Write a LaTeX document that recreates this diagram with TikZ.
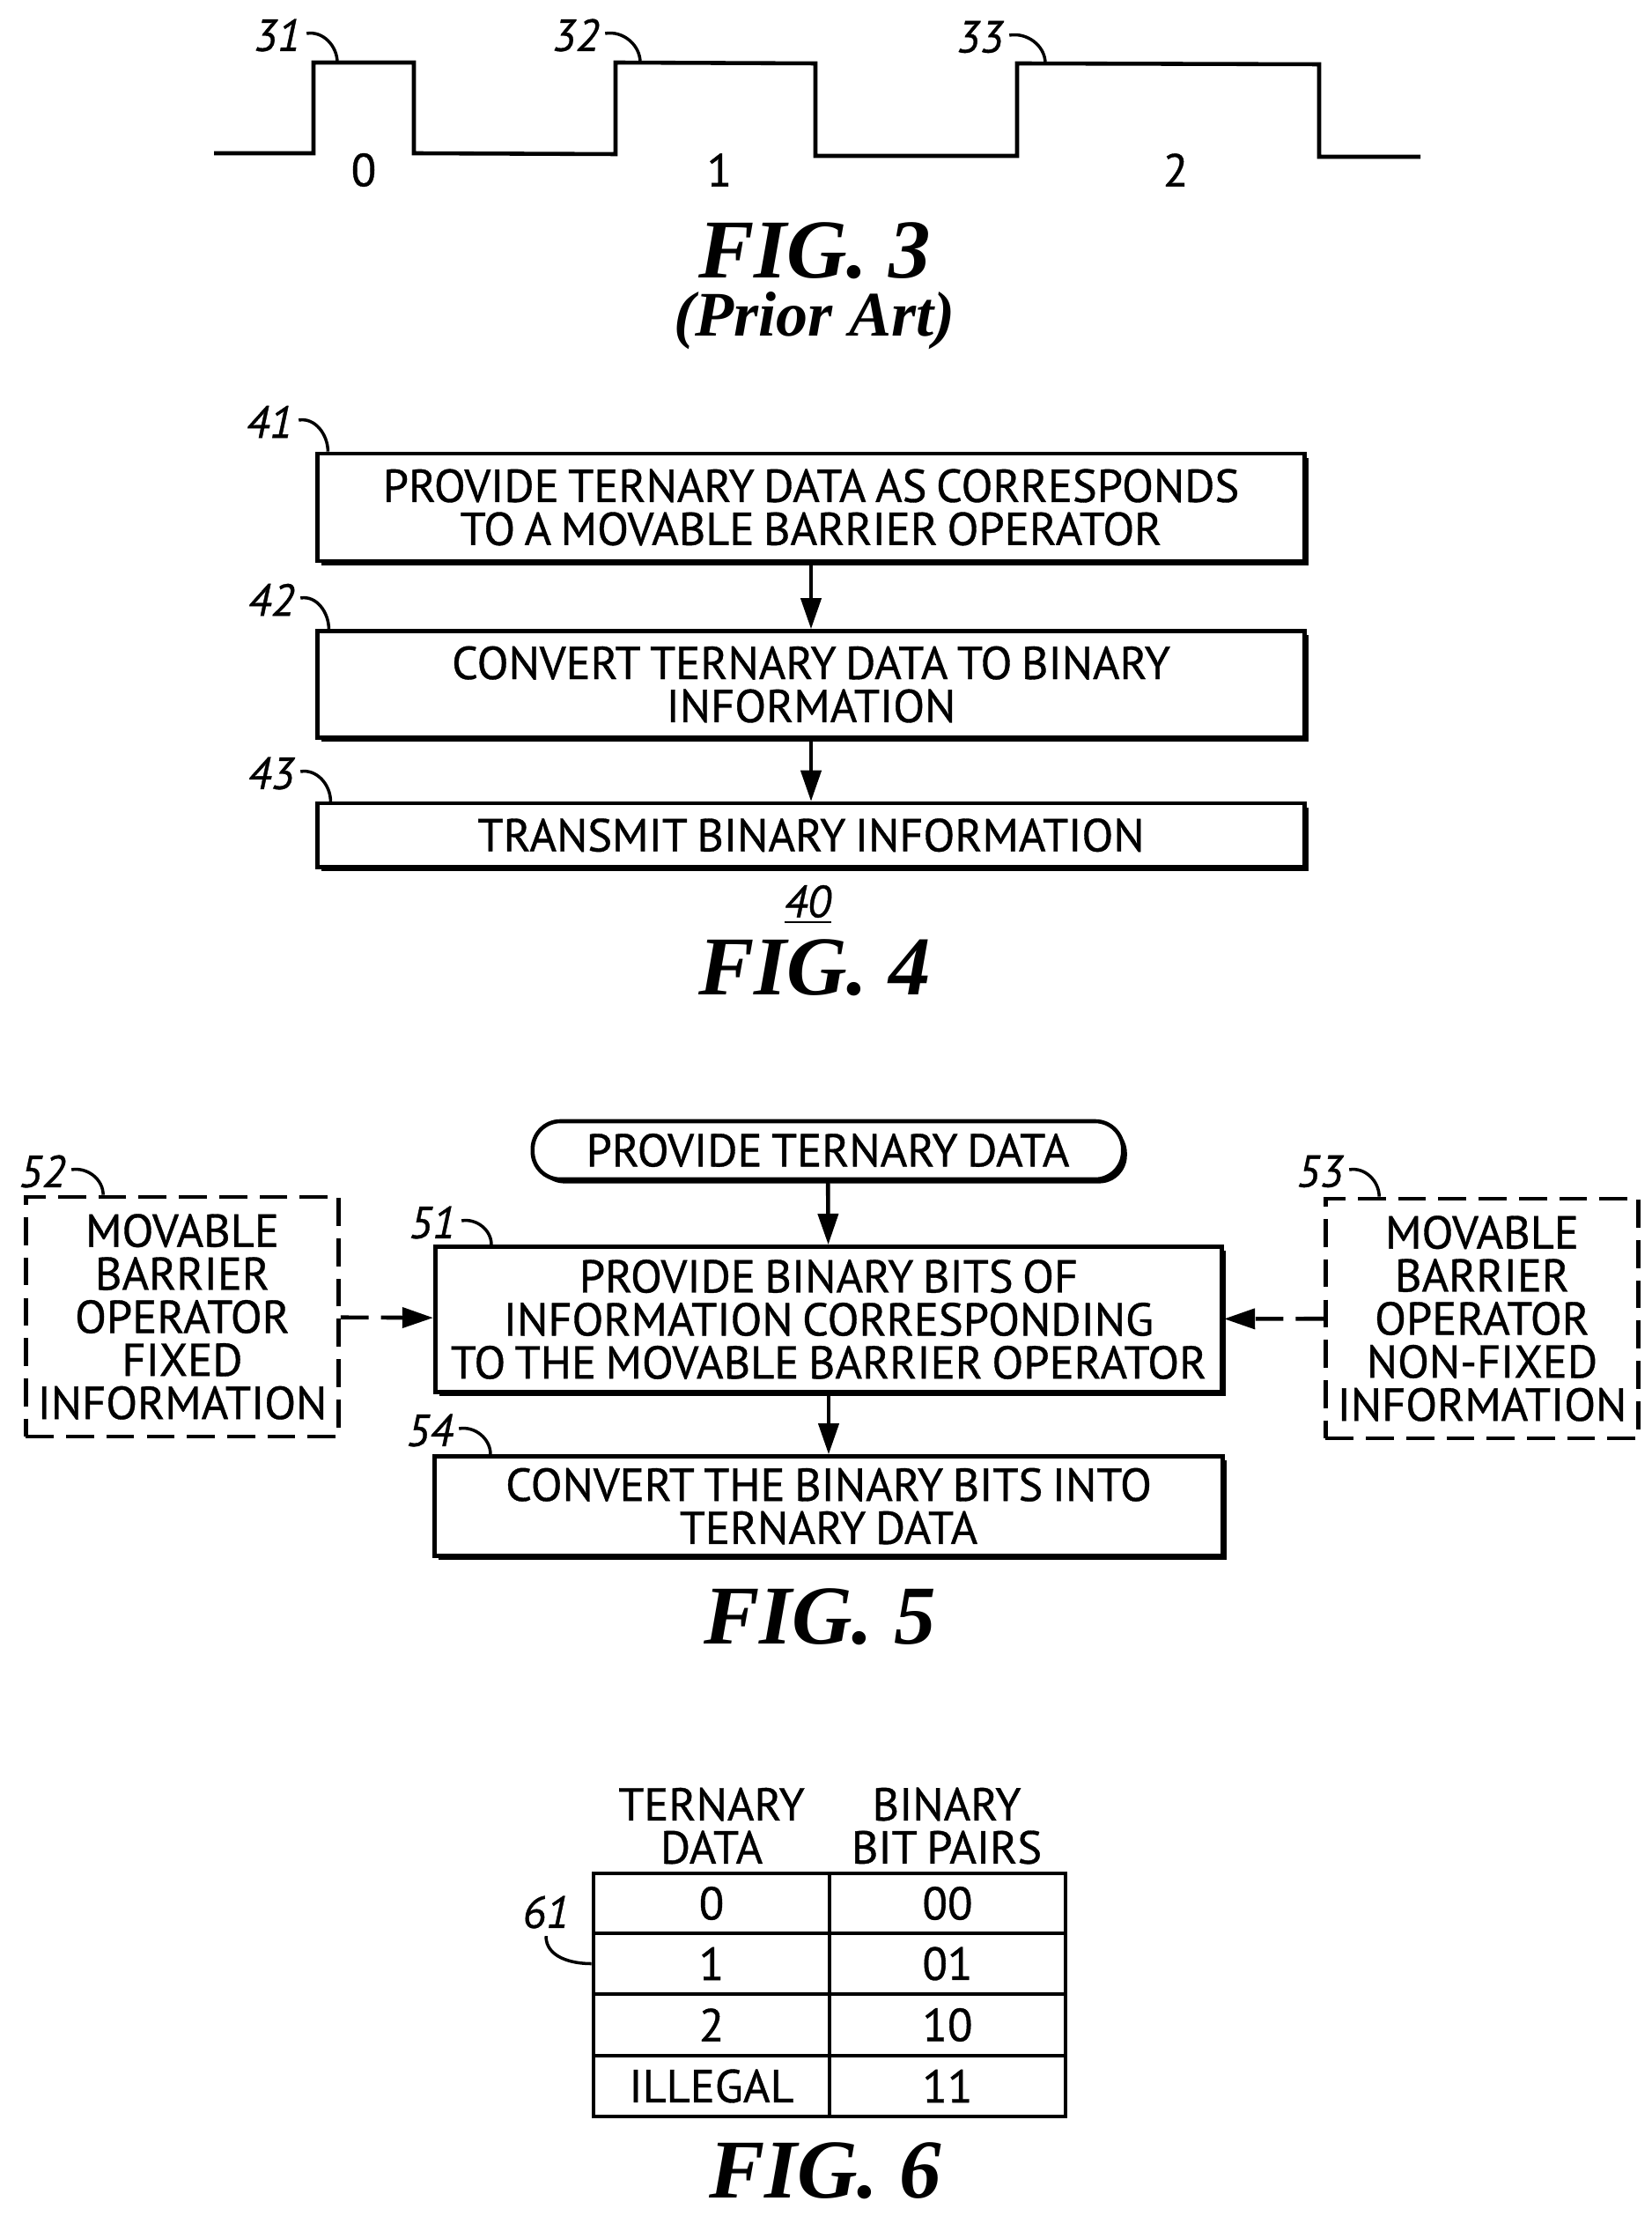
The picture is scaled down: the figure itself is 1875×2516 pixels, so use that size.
\documentclass[tikz,border=0pt]{standalone}
\usepackage{fontspec}
\setmainfont{PT Sans}[WordSpace=0.75,RawFeature={embolden=0.7}]
\newfontfamily\figfont{Liberation Serif}
\usetikzlibrary{arrows.meta,positioning,shadows}

\tikzset{
  stepbox/.style={draw,fill=white,line width=1.3pt,align=center,inner sep=0pt,
    font=\fontsize{14.9}{13.9}\selectfont,minimum width=11.2cm,
    drop shadow={shadow xshift=1.3pt,shadow yshift=-1.3pt,opacity=1,fill=black}},
  infobox/.style={draw,fill=white,line width=1.3pt,align=center,inner sep=0pt,dash pattern=on 9pt off 4pt,
    font=\fontsize{14.9}{13.9}\selectfont,minimum width=3.55cm,minimum height=2.72cm},
  cell/.style={draw,line width=1.3pt,inner sep=0pt,font=\fontsize{14.9}{13.9}\selectfont,minimum width=2.68cm},
  plain/.style={align=center,inner sep=0pt,font=\fontsize{14.9}{13.9}\selectfont},
  refnum/.style={inner sep=0pt,font=\fontsize{14.5}{14}\selectfont\itshape},
  figlabel/.style={inner sep=0pt,font=\figfont\fontsize{27}{27}\selectfont\bfseries\itshape},
  leader/.style={line width=1pt,-}
}

\begin{document}
\begin{tikzpicture}[%
       x=0.01cm,y=-0.01cm,
       >={Stealth[length=10pt,width=6.5pt,inset=0pt]},
       node distance=1cm,
       on grid
     ]
     \useasboundingbox (0,0) rectangle (1875,2516);

     % FIG. 3
     \draw[line width=1.3pt,line join=miter] (243,174) -- (356,174) -- (356,71) -- (470,71) -- (470,174) -- (699,175)
        -- (699,71) -- (926,72) -- (926,177) -- (1155,177) -- (1155,72) -- (1498,73) -- (1498,178) -- (1613,178);
     \node[plain] (p0) at (413,193) {0};
     \node[plain] (p1) at (817,193) {1};
     \node[plain] (p2) at (1335,193) {2};
     \node[refnum] (l31) at (315,40) {31};
     \node[refnum] (l32) at (654,40) {32};
     \node[refnum] (l33) at (1113,42) {33};
     \coordinate (c31) at (383,71);
     \coordinate (c32) at (727,71);
     \coordinate (c33) at (1187,72);
     \draw[leader] (l31.east) ++(6,-2) to[out=10,in=90] (c31);
     \draw[leader] (l32.east) ++(6,-2) to[out=10,in=90] (c32);
     \draw[leader] (l33.east) ++(6,-2) to[out=10,in=90] (c33);
     \node[figlabel] (f3) at (925,285) {FIG. 3};
     \node[inner sep=0pt,font=\figfont\fontsize{20.5}{20}\selectfont\bfseries\itshape] (f3b) at (925,364) {(Prior Art)};

     % FIG. 4
     \node[stepbox,minimum height=1.22cm]	(b41) at (921,576)	{PROVIDE TERNARY DATA AS CORRESPONDS\\TO A MOVABLE BARRIER OPERATOR};
     \node[stepbox,minimum height=1.21cm]	(b42) [below=2.01cm of b41]	{CONVERT TERNARY DATA TO BINARY\\INFORMATION};
     \node[stepbox,minimum height=.72cm]	(b43) [below=1.71cm of b42]	{TRANSMIT BINARY INFORMATION};
     \node[refnum] (l41) at (306,479) {41};
     \node[refnum] (l42) at (308,681) {42};
     \node[refnum] (l43) at (308,878) {43};
     \draw[leader] (l41.east) ++(6,-2) to[out=10,in=90] ([xshift=.14cm]b41.north west);
     \draw[leader] (l42.east) ++(6,-2) to[out=10,in=90] ([xshift=.15cm]b42.north west);
     \draw[leader] (l43.east) ++(6,-2) to[out=10,in=90] ([xshift=.17cm]b43.north west);
     \path[->,line width=1.3pt] (b41) edge (b42);
     \path[->,line width=1.3pt] (b42) edge (b43);
     \node[refnum] (n40) at (917,1027) {\underline{40}};
     \node[figlabel] (f4) at (925,1099) {FIG. 4};

     % FIG. 5
     \node[stepbox,rounded corners=9pt,minimum width=6.7cm,minimum height=.66cm]	(start) at (940,1306)	{PROVIDE TERNARY DATA};
     \node[stepbox,minimum width=8.93cm,minimum height=1.65cm]	(b51) at (941,1498)	{PROVIDE BINARY BITS OF\\INFORMATION CORRESPONDING\\TO THE MOVABLE BARRIER OPERATOR};
     \node[stepbox,minimum width=8.95cm,minimum height=1.13cm]	(b54) [below=2.12cm of b51]	{CONVERT THE BINARY BITS INTO\\TERNARY DATA};
     \node[infobox]	(b52) at (207,1495)	{MOVABLE\\BARRIER\\OPERATOR\\FIXED\\INFORMATION};
     \node[infobox]	(b53) at (1683,1497)	{MOVABLE\\BARRIER\\OPERATOR\\NON-FIXED\\INFORMATION};
     \node[refnum] (l52) at (48,1330) {52};
     \node[refnum] (l53) at (1499,1330) {53};
     \node[refnum] (l51) at (491,1388) {51};
     \node[refnum] (l54) at (488,1624) {54};
     \draw[leader] (l52.east) ++(6,-2) to[out=10,in=90] ([xshift=.9cm]b52.north west);
     \draw[leader] (l53.east) ++(6,-2) to[out=10,in=90] ([xshift=.63cm]b53.north west);
     \draw[leader] (l51.east) ++(6,-2) to[out=10,in=90] ([xshift=.66cm]b51.north west);
     \draw[leader] (l54.east) ++(6,-2) to[out=10,in=90] ([xshift=.66cm]b54.north west);
     \path[->,line width=1.3pt] (start) edge (b51);
     \path[->,line width=1.3pt] (b51) edge (b54);
     \path[->,line width=1.3pt,dash pattern=on 9pt off 4pt] (b52) edge (b51);
     \path[->,line width=1.3pt,dash pattern=on 9pt off 4pt] (b53) edge (b51);
     \node[figlabel] (f5) at (931,1836) {FIG. 5};

     % FIG. 6
     \node[plain] (h1) at (808,2073) {TERNARY\\DATA};
     \node[plain] (h2) at (1075,2073) {BINARY\\BIT PAIRS};
     \foreach \i/\ypos/\rowh/\ter/\bin in {1/2161/.68cm/0/00,2/2229.5/.69cm/1/01,3/2299/.70cm/2/10,4/2368.5/.69cm/ILLEGAL/11}{
       \node[cell,minimum height=\rowh] (t\i) at (808,\ypos) {\ter};
       \node[cell,minimum height=\rowh] (u\i) at (1076,\ypos) {\bin};
     }
     \node[refnum] (l61) at (620,2171) {61};
     \draw[leader] (l61.south) ++(0,8) to[out=-90,in=180] (t2.west);
     \node[figlabel] (f6) at (937,2465) {FIG. 6};
\end{tikzpicture}
\end{document}
